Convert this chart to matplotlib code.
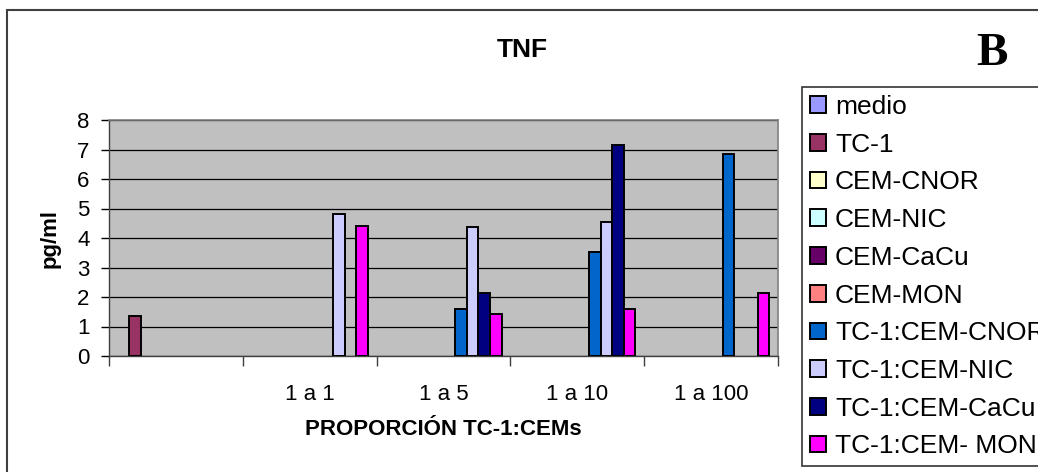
import numpy as np
import matplotlib
matplotlib.use("Agg")
import matplotlib.pyplot as plt
from matplotlib.patches import Rectangle

plt.rcParams['font.family'] = ['Liberation Sans', 'DejaVu Sans']

# datos (nan = sin barra)
categorias = ["", "1 a 1", "1 a 5", "1 a 10", "1 a 100"]
series = ["medio", "TC-1", "CEM-CNOR", "CEM-NIC", "CEM-CaCu", "CEM-MON",
          "TC-1:CEM-CNOR", "TC-1:CEM-NIC", "TC-1:CEM-CaCu", "TC-1:CEM- MON"]
medio = [np.nan, np.nan, np.nan, np.nan, np.nan]
tc1 = [1.35, np.nan, np.nan, np.nan, np.nan]
cem_cnor = [np.nan, np.nan, np.nan, np.nan, np.nan]
cem_nic = [np.nan, np.nan, np.nan, np.nan, np.nan]
cem_cacu = [np.nan, np.nan, np.nan, np.nan, np.nan]
cem_mon = [np.nan, np.nan, np.nan, np.nan, np.nan]
tc1_cnor = [np.nan, np.nan, 1.58, 3.52, 6.84]
tc1_nic = [np.nan, 4.82, 4.37, 4.55, np.nan]
tc1_cacu = [np.nan, np.nan, 2.14, 7.14, np.nan]
tc1_mon = [np.nan, 4.40, 1.41, 1.60, 2.15]
valores = [medio, tc1, cem_cnor, cem_nic, cem_cacu, cem_mon,
           tc1_cnor, tc1_nic, tc1_cacu, tc1_mon]
colores = ["#9999FF", "#993366", "#FFFFCC", "#CCFFFF", "#660066", "#FF8080",
           "#0066CC", "#CCCCFF", "#000080", "#FF00FF"]

W, H = 1038, 472
fig = plt.figure(figsize=(W / 100, H / 100), dpi=100)
ax = fig.add_axes([109 / W, 1 - 356 / H, 669 / W, 236 / H])
ax.set_facecolor("#C0C0C0")

x = np.arange(len(categorias))
n = len(series)
w = 1 / (n + 1.5)
for i in range(n):
    ax.bar(x + (i - (n - 1) / 2) * w, valores[i], width=w, color=colores[i],
           edgecolor="black", linewidth=1.4, label=series[i], zorder=3)

ax.set_xlim(-0.5, len(categorias) - 0.5)
ax.set_ylim(0, 8)
ax.set_yticks(range(0, 9))
ax.yaxis.grid(True, color="black", linewidth=0.9)
ax.set_axisbelow(True)

# ticks en los limites de categoria, etiquetas en el centro
ax.set_xticks(np.arange(-0.5, len(categorias), 1))
ax.set_xticklabels([])
ax.set_xticks(x, minor=True)
ax.set_xticklabels(categorias, minor=True, fontsize=16)
ax.tick_params(axis="x", which="major", length=7, width=1, color="#404040")
ax.tick_params(axis="x", which="minor", length=0, pad=20)
ax.tick_params(axis="y", labelsize=16, length=6, width=1, pad=8)

for s in ["top", "right"]:
    ax.spines[s].set_color("#808080")
    ax.spines[s].set_linewidth(1.2)
for s in ["left", "bottom"]:
    ax.spines[s].set_color("#404040")
    ax.spines[s].set_linewidth(1)

ax.set_ylabel("pg/ml", fontsize=16, fontweight="bold", labelpad=12)
ax.set_xlabel("PROPORCIÓN TC-1:CEMs", fontsize=16, fontweight="bold", labelpad=10)

fig.text(522 / W, 1 - 50 / H, "TNF", fontsize=19, fontweight="bold",
         ha="center", va="center")
fig.text(992 / W, 1 - 54 / H, "B", fontsize=34, fontweight="bold",
         family="Liberation Serif", ha="center", va="center")

# marco exterior
fig.patches.append(Rectangle((7 / W, -0.05), 1.1, 1 - 10 / H + 0.05,
                             transform=fig.transFigure, fill=False,
                             edgecolor="#404040", linewidth=1.5))

leg = fig.legend(loc="upper left", bbox_to_anchor=(802 / W, 1 - 87 / H),
                 fontsize=19, frameon=True, fancybox=False, edgecolor="black",
                 handlelength=0.6, handleheight=0.6, handletextpad=0.35,
                 labelspacing=0.52, borderpad=0.3, borderaxespad=0)
leg.get_frame().set_linewidth(1.2)

fig.savefig("out.png", dpi=100)
